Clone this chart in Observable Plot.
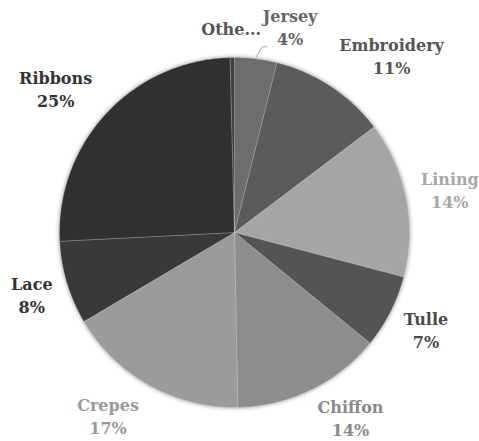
<!DOCTYPE html>
<html>
<head>
<meta charset="utf-8">
<script src="https://cdn.jsdelivr.net/npm/d3@7"></script>
<script src="https://cdn.jsdelivr.net/npm/@observablehq/plot@0.6"></script>
<style>
  body { margin: 0; background: #fff; }
</style>
</head>
<body>
<div id="chart"></div>
<script>
// ---- data ----
const categories = ["Jersey", "Embroidery", "Lining", "Tulle", "Chiffon", "Crepes", "Lace", "Ribbons", "Others"];
const shares     = [3.9, 10.8, 14.4, 6.8, 13.8, 16.8, 7.7, 25.4, 0.4];
const labelNames = ["Jersey", "Embroidery", "Lining", "Tulle", "Chiffon", "Crepes", "Lace", "Ribbons", "Othe..."];
const showPct    = [true, true, true, true, true, true, true, true, false];
const sliceColors = ["#6d6d6d", "#5b5b5b", "#a5a5a5", "#545454", "#8d8d8d", "#9b9b9b", "#393939", "#303030", "#404040"];
const labelColors = ["#666666", "#555555", "#a8a8a8", "#4a4a4a", "#8a8a8a", "#999999", "#333333", "#333333", "#555555"];

// ---- layout ----
const W = 479, H = 441;
const CX = 234, CY = 232, R = 175;
const FONT_SIZE = 16, LINE_H = 23;
const GAP = 15;
const nudge = {Jersey: [24, 5], Others: [0, -3], Crepes: [-3, -3], Ribbons: [-3, 0], Chiffon: [0, -7], Lining: [0, -2]};

const total = d3.sum(shares);
const arcs = d3.pie().sort(null).value(d => d)(shares);

// slice polygons (unit radius, y up)
const slicePts = [];
arcs.forEach((a, i) => {
  const n = Math.max(2, Math.ceil((a.endAngle - a.startAngle) / (Math.PI / 360)));
  slicePts.push({name: categories[i], x: 0, y: 0});
  for (let k = 0; k <= n; k++) {
    const t = a.startAngle + (a.endAngle - a.startAngle) * k / n;
    slicePts.push({name: categories[i], x: Math.sin(t), y: Math.cos(t)});
  }
  slicePts.push({name: categories[i], x: 0, y: 0});
});

// label positions (outside end)
const ctx = document.createElement("canvas").getContext("2d");
ctx.font = `bold ${FONT_SIZE}px "DejaVu Serif"`;
const labels = arcs.map((a, i) => {
  const pct = Math.round(shares[i] / total * 100) + "%";
  const lines = showPct[i] ? [labelNames[i], pct] : [labelNames[i]];
  const w = d3.max(lines, l => ctx.measureText(l).width);
  const h = lines.length * LINE_H;
  const m = (a.startAngle + a.endAngle) / 2;
  const dx = Math.sin(m), dy = -Math.cos(m);
  let px = dx * (R + GAP) + Math.sign(dx) * Math.min(1, 2.5 * Math.abs(dx)) * w / 2;
  let py = dy * (R + GAP) + dy * h / 2;
  const nd = nudge[categories[i]];
  if (nd) { px += nd[0]; py += nd[1]; }
  return {name: categories[i], text: lines.join("\n"), x: px / R, y: -py / R, mid: m, leader: categories[i] === "Jersey"};
});

// leader line for the displaced label
const leaders = [];
labels.filter(d => d.leader).forEach(d => {
  const ex = Math.sin(d.mid) * (R + 1), ey = -Math.cos(d.mid) * (R + 1);
  const elbowX = ex + 6, elbowY = ey - 11;
  const sx = elbowX + 5, sy = elbowY;
  [[ex, ey], [elbowX, elbowY], [sx, sy]].forEach(([px, py]) =>
    leaders.push({name: d.name, x: px / R, y: -py / R}));
});

const chart = Plot.plot({
  width: W,
  height: H,
  margin: 0,
  style: {background: "#fff", fontFamily: "'DejaVu Serif', serif", overflow: "visible"},
  x: {domain: [-CX / R, (W - CX) / R], axis: null},
  y: {domain: [-(H - CY) / R, CY / R], axis: null},
  color: {domain: categories, range: sliceColors},
  marks: [
    Plot.line(slicePts, {x: "x", y: "y", z: "name", fill: "name", stroke: "#fff", strokeOpacity: 0.25, strokeWidth: 0.8, curve: "linear"}),
    Plot.line(leaders, {x: "x", y: "y", z: "name", stroke: "#a6a6a6", strokeWidth: 1}),
    Plot.text(labels, {x: "x", y: "y", text: "text", fill: d => labelColors[categories.indexOf(d.name)],
      fontSize: FONT_SIZE, fontWeight: "bold", lineHeight: LINE_H / FONT_SIZE, textAnchor: "middle"})
  ]
});
chart.querySelector('g[aria-label="line"]').style.filter = "drop-shadow(0px 0px 2px rgba(0,0,0,0.45))";
document.getElementById("chart").appendChild(chart);
</script>
</body>
</html>
